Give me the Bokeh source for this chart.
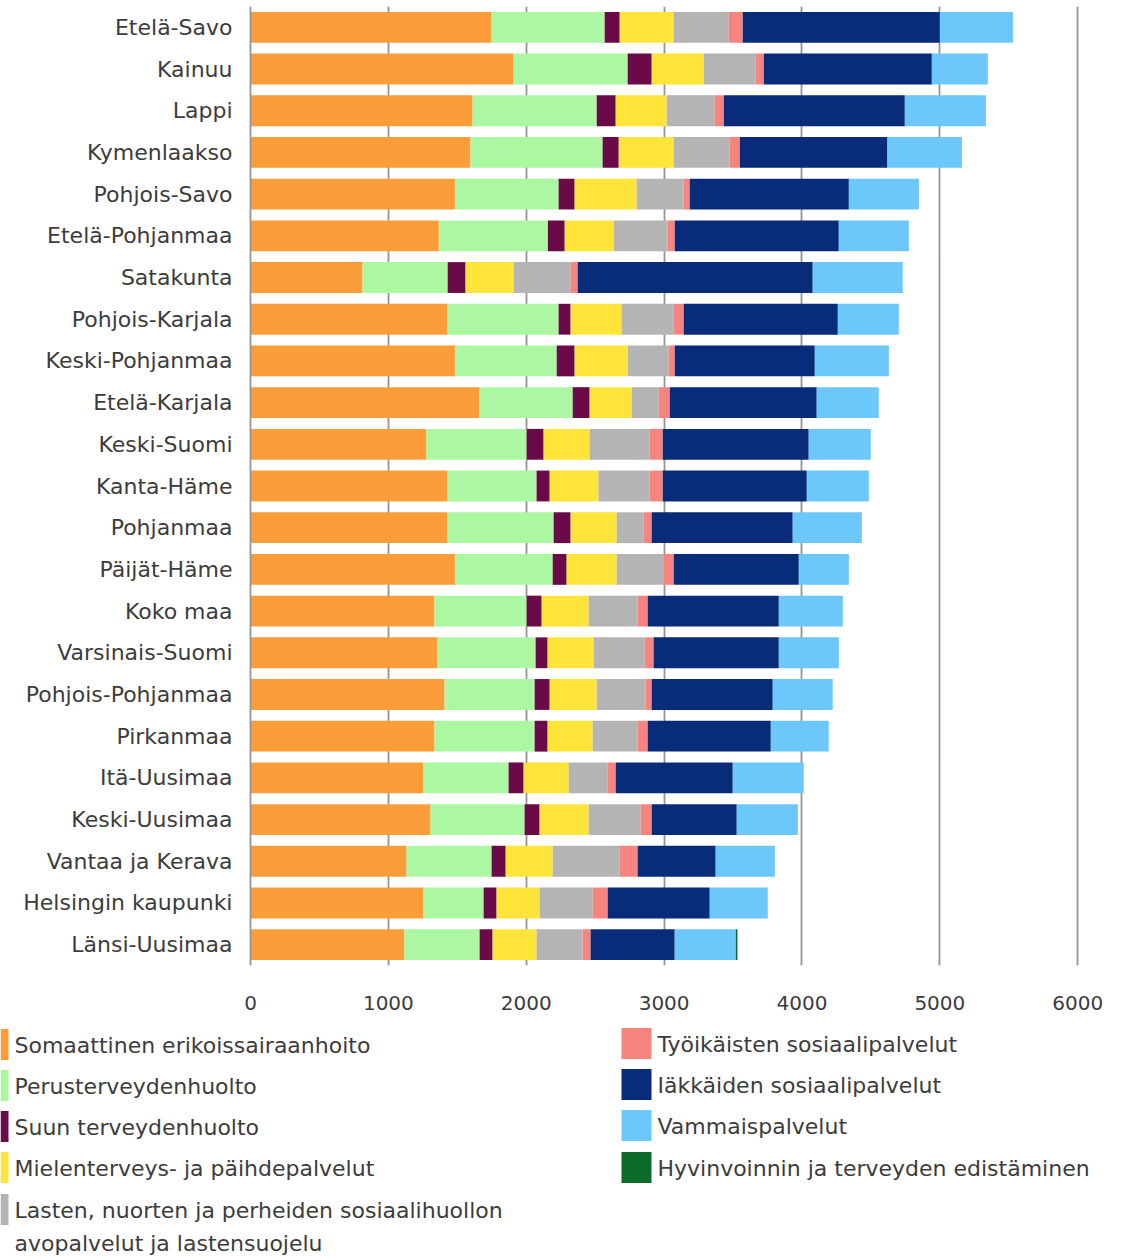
from bokeh.plotting import figure
from bokeh.models import ColumnDataSource, FactorRange, Range1d, Label, FixedTicker
from bokeh.layouts import column
from bokeh.embed import file_html
from bokeh.resources import INLINE
from bokeh.core.properties import value

regions = ["Etelä-Savo", "Kainuu", "Lappi", "Kymenlaakso", "Pohjois-Savo",
           "Etelä-Pohjanmaa", "Satakunta", "Pohjois-Karjala", "Keski-Pohjanmaa",
           "Etelä-Karjala", "Keski-Suomi", "Kanta-Häme", "Pohjanmaa", "Päijät-Häme",
           "Koko maa", "Varsinais-Suomi", "Pohjois-Pohjanmaa", "Pirkanmaa",
           "Itä-Uusimaa", "Keski-Uusimaa", "Vantaa ja Kerava", "Helsingin kaupunki",
           "Länsi-Uusimaa"]

categories = ["Somaattinen erikoissairaanhoito", "Perusterveydenhuolto",
              "Suun terveydenhuolto", "Mielenterveys- ja päihdepalvelut",
              "Lasten, nuorten ja perheiden sosiaalihuollon avopalvelut ja lastensuojelu",
              "Työikäisten sosiaalipalvelut", "Iäkkäiden sosiaalipalvelut",
              "Vammaispalvelut", "Hyvinvoinnin ja terveyden edistäminen"]

legend_labels = ["Somaattinen erikoissairaanhoito", "Perusterveydenhuolto",
                 "Suun terveydenhuolto", "Mielenterveys- ja päihdepalvelut",
                 "Lasten, nuorten ja perheiden sosiaalihuollon\navopalvelut ja lastensuojelu",
                 "Työikäisten sosiaalipalvelut", "Iäkkäiden sosiaalipalvelut",
                 "Vammaispalvelut", "Hyvinvoinnin ja terveyden edistäminen"]

colors = ["#FD9D3A", "#ABF7A2", "#6B0A48", "#FFE43A", "#B4B4B4",
          "#F7857F", "#082B7A", "#6CC7FB", "#0D6B2A"]

somaattinen = [1749, 1908, 1611, 1596, 1483, 1366, 813, 1430, 1483, 1662, 1277, 1430,
               1430, 1483, 1335, 1357, 1408, 1335, 1255, 1306, 1132, 1255, 1117]
perus = [820, 828, 900, 958, 752, 791, 617, 805, 738, 675, 726, 645,
         769, 709, 668, 711, 653, 726, 617, 682, 617, 436, 545]
suun = [109, 174, 138, 117, 116, 122, 130, 87, 130, 123, 123, 95,
        123, 101, 109, 87, 109, 94, 109, 109, 102, 94, 94]
mielenterveys = [392, 377, 370, 399, 450, 356, 349, 370, 385, 305, 334, 355,
                 334, 363, 341, 334, 341, 327, 327, 356, 341, 312, 319]
lasten = [399, 378, 348, 406, 341, 391, 413, 378, 297, 196, 435, 370,
          196, 341, 355, 370, 355, 326, 283, 377, 486, 385, 334]
tyoikaiset = [101, 58, 66, 73, 44, 51, 51, 72, 44, 80, 95, 95,
              58, 73, 73, 65, 44, 73, 58, 80, 130, 109, 58]
iakkaat = [1430, 1219, 1313, 1071, 1154, 1190, 1705, 1118, 1016, 1066, 1059, 1045,
           1023, 907, 951, 908, 878, 893, 849, 617, 566, 740, 610]
vammais = [530, 406, 588, 540, 508, 508, 653, 442, 537, 450, 450, 450,
           501, 363, 464, 435, 435, 420, 515, 443, 429, 421, 443]
hyvinvointi = [0, 0, 0, 0, 0, 0, 0, 0, 0, 0, 0, 0,
               0, 0, 0, 0, 0, 0, 0, 0, 0, 0, 12]

x_ticks = [0, 1000, 2000, 3000, 4000, 5000, 6000]

series = [somaattinen, perus, suun, mielenterveys, lasten, tyoikaiset, iakkaat, vammais, hyvinvointi]
data = {"region": regions}
for name, vals in zip(categories, series):
    data[name] = vals
source = ColumnDataSource(data)

FONT = "DejaVu Sans"
TXT = "#3c3c3c"
W = 1111

p = figure(width=W, height=1020, output_backend="svg", toolbar_location=None,
           y_range=FactorRange(factors=regions[::-1]), x_range=Range1d(0, 6100),
           min_border_left=250, min_border_right=20, min_border_top=6, min_border_bottom=55)
p.frame_align = False
p.outline_line_color = None
p.hbar_stack(categories, y="region", height=0.74, color=colors, source=source, line_width=0)

p.xgrid.ticker = FixedTicker(ticks=x_ticks)
p.xgrid.grid_line_color = "#959595"
p.xgrid.grid_line_width = 1.8
p.ygrid.grid_line_color = None

p.xaxis.ticker = FixedTicker(ticks=x_ticks)
p.xaxis.axis_line_color = None
p.xaxis.major_tick_line_color = None
p.xaxis.minor_tick_line_color = None
p.xaxis.major_label_standoff = 24
p.xaxis.major_label_text_font = FONT
p.xaxis.major_label_text_font_size = "20px"
p.xaxis.major_label_text_color = TXT

p.yaxis.axis_line_color = "#959595"
p.yaxis.axis_line_width = 1.8
p.yaxis.major_tick_line_color = None
p.yaxis.minor_tick_line_color = None
p.yaxis.major_label_standoff = 12
p.yaxis.major_label_text_font = FONT
p.yaxis.major_label_text_font_size = "22px"
p.yaxis.major_label_text_color = TXT
p.yaxis.major_label_overrides = {"Koko maa": ""}

koko_idx = regions[::-1].index("Koko maa") + 0.5
p.add_layout(Label(x=0, y=koko_idx, x_offset=-13, text="Koko maa", text_align="right",
                   text_baseline="middle", text_font=FONT, text_font_size="22px",
                   text_font_style="bold", text_color=TXT))

# legend figure (data coords = pixels on the page)
LG_TOP, LG_H = 1020, 237
lg = figure(width=W, height=LG_H, output_backend="svg", toolbar_location=None,
            x_range=Range1d(0, W), y_range=Range1d(LG_TOP + LG_H, LG_TOP),
            min_border=0, min_border_left=0, min_border_right=0,
            min_border_top=0, min_border_bottom=0)
lg.frame_align = False
lg.axis.visible = False
lg.grid.visible = False
lg.outline_line_color = None

left_rows = [1044, 1085, 1126, 1167, 1209]
right_rows = [1043, 1084, 1125, 1167]
sw_x, sw_w, sw_y, sw_c = [], [], [], []
t_x, t_y, t_s = [], [], []
for i, (lab, col) in enumerate(zip(legend_labels, colors)):
    if i < 5:
        y = left_rows[i]; x0, x1, tx = 0, 8, 14
    else:
        y = right_rows[i - 5]; x0, x1, tx = 621, 651, 657
    sw_x.append((x0 + x1) / 2); sw_w.append(x1 - x0); sw_y.append(y); sw_c.append(col)
    for k, line in enumerate(lab.split("\n")):
        t_x.append(tx); t_y.append(y + 1 + k * 33); t_s.append(line)

lg.rect(x=sw_x, y=sw_y, width=sw_w, height=31, color=sw_c, line_width=0)
lg.text(x=t_x, y=t_y, text=t_s, text_font=value(FONT), text_font_size="22px",
        text_color=TXT, text_baseline="middle", text_align="left")

layout = column(p, lg, spacing=0)
open("out.html", "w").write(file_html(layout, INLINE))
